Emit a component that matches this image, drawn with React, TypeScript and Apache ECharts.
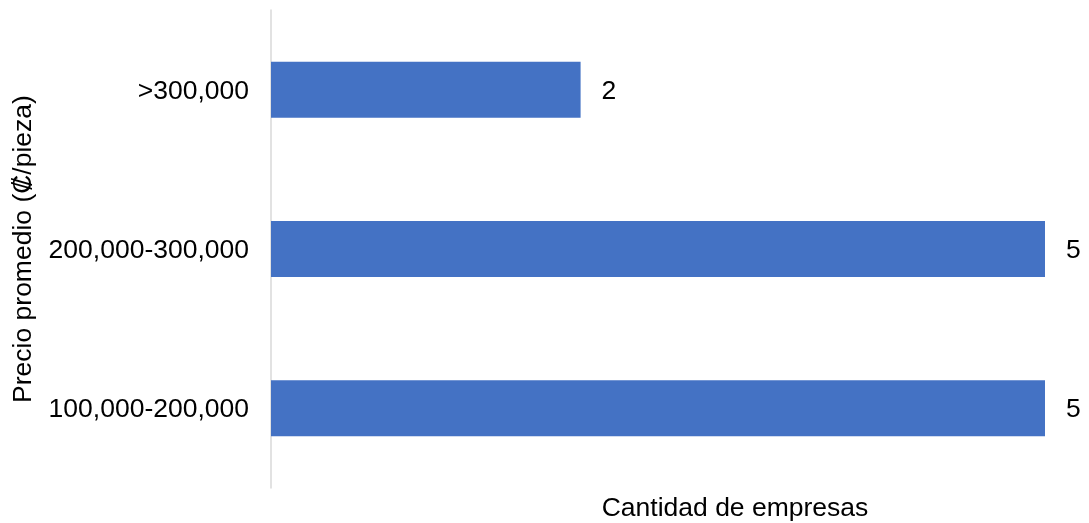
import React, { useEffect, useRef } from "react";
import * as echarts from "echarts";

const categories = ["100,000-200,000", "200,000-300,000", ">300,000"];
const values = [5, 5, 2];
const xAxisName = "Cantidad de empresas";
const yAxisName = "Precio promedio (₡/pieza)";

export default function App() {
  const ref = useRef<HTMLDivElement>(null);
  useEffect(() => {
    if (!ref.current) return;
    const chart = echarts.init(ref.current, null, { renderer: "svg" });
    const font = "Arial, 'Liberation Sans', sans-serif";
    const fs = 26.5;
    chart.setOption({
      animation: false,
      grid: { left: 271, right: 44, top: 10, bottom: 35, containLabel: false, outerBoundsMode: "none" },
      xAxis: {
        type: "value",
        min: 0,
        max: 5,
        axisLine: { show: false },
        axisTick: { show: false },
        axisLabel: { show: false },
        splitLine: { show: false },
        name: xAxisName,
        nameLocation: "middle",
        nameGap: 5,
        nameTextStyle: { fontSize: fs, lineHeight: 28, color: "#000", fontFamily: font, padding: [0, 0, 0, 154] },
      },
      yAxis: {
        type: "category",
        data: categories,
        axisLine: { show: true, lineStyle: { color: "#d9d9d9", width: 1.5 } },
        axisTick: { show: false },
        axisLabel: { fontSize: fs, color: "#000", fontFamily: font, margin: 22 },
        name: yAxisName,
        nameLocation: "middle",
        nameGap: 236,
        nameRotate: 90,
        nameTextStyle: { fontSize: fs, color: "#000", fontFamily: font },
      },
      series: [
        {
          type: "bar",
          data: values,
          barWidth: 56,
          itemStyle: { color: "#4472C4" },
          label: {
            show: true,
            position: "right",
            distance: 21,
            fontSize: fs,
            color: "#000",
            fontFamily: font,
          },
        },
      ],
    });
    return () => chart.dispose();
  }, []);
  return (
    <div
      ref={ref}
      style={{ position: "fixed", left: 0, top: 0, width: 1089, height: 523, overflow: "hidden" }}
    />
  );
}
